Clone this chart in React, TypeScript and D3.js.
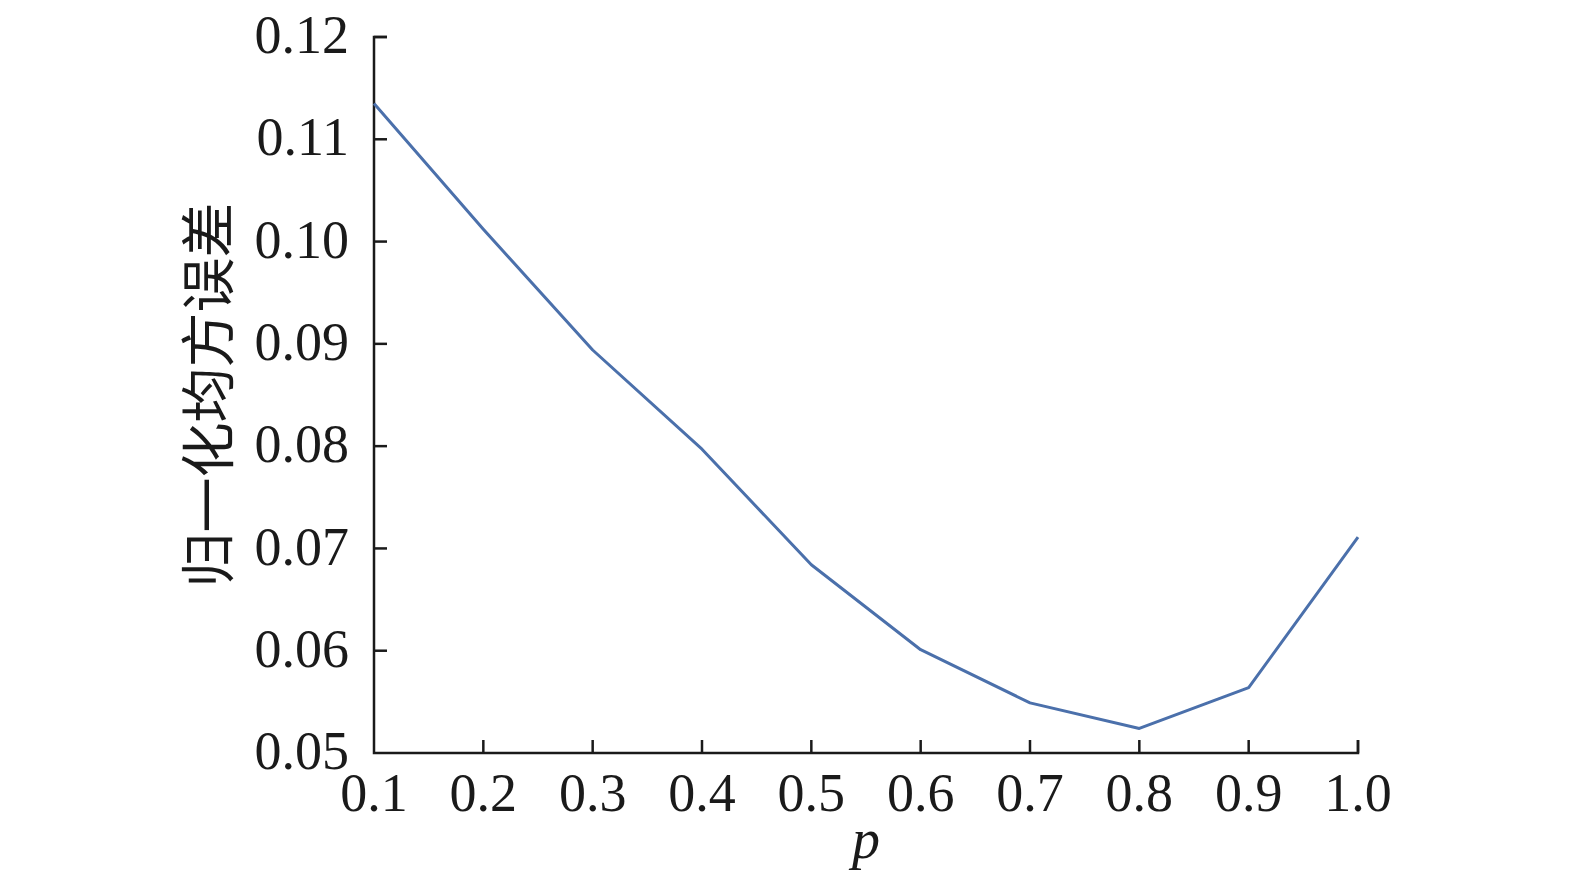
import React from 'react';
import * as d3 from 'd3';

const pValues = [0.1, 0.2, 0.3, 0.4, 0.5, 0.6, 0.7, 0.8, 0.9, 1.0];
const nmse = [0.1135, 0.1012, 0.0894, 0.0797, 0.0684, 0.0601, 0.0549, 0.0524, 0.0564, 0.0711];
const xTicks = [0.1, 0.2, 0.3, 0.4, 0.5, 0.6, 0.7, 0.8, 0.9, 1.0];
const yTicks = [0.05, 0.06, 0.07, 0.08, 0.09, 0.1, 0.11, 0.12];

const W = 1575;
const H = 881;
const left = 374;
const right = 1358;
const top = 37;
const bottom = 753;

export default function App() {
  const x = d3.scaleLinear().domain([0.1, 1.0]).range([left, right]);
  const y = d3.scaleLinear().domain([0.05, 0.12]).range([bottom, top]);
  const line = d3
    .line<number>()
    .x((_, i) => x(pValues[i]))
    .y(d => y(d));

  const serif = '"Liberation Serif", "Times New Roman", serif';

  return (
    <svg width={W} height={H} style={{ position: 'absolute', left: 0, top: 0, background: '#fff' }}>
      {/* axes */}
      <path
        d={`M${left + 13},${top}H${left}V${bottom}H${right}V${bottom - 13}`}
        fill="none"
        stroke="#1a1a1a"
        strokeWidth={2.5}
      />
      {yTicks.map(t => (
        <g key={'y' + t}>
          {t > 0.05 && <line x1={left} x2={left + 13} y1={y(t)} y2={y(t)} stroke="#1a1a1a" strokeWidth={2.5} />}
          <text
            x={349}
            y={y(t)}
            dy="0.3em"
            textAnchor="end"
            fontFamily={serif}
            fontSize={54}
            fill="#1a1a1a"
          >
            {t.toFixed(2)}
          </text>
        </g>
      ))}
      {xTicks.map(t => (
        <g key={'x' + t}>
          {t > 0.1 && <line x1={x(t)} x2={x(t)} y1={bottom} y2={bottom - 13} stroke="#1a1a1a" strokeWidth={2.5} />}
          <text x={x(t)} y={811} textAnchor="middle" fontFamily={serif} fontSize={54} fill="#1a1a1a">
            {t.toFixed(1)}
          </text>
        </g>
      ))}
      <text
        x={866}
        y={858}
        textAnchor="middle"
        fontFamily={serif}
        fontStyle="italic"
        fontSize={56}
        fill="#1a1a1a"
      >
        p
      </text>
      <text
        transform={`translate(228,${(203 + 587) / 2}) rotate(-90)`}
        textAnchor="middle"
        fontFamily='"Noto Sans CJK SC", sans-serif'
        fontSize={55}
        fill="#1a1a1a"
      >
        归一化均方误差
      </text>
      <path d={line(nmse) ?? ''} fill="none" stroke="#4b70ab" strokeWidth={3} strokeLinejoin="round" />
    </svg>
  );
}
